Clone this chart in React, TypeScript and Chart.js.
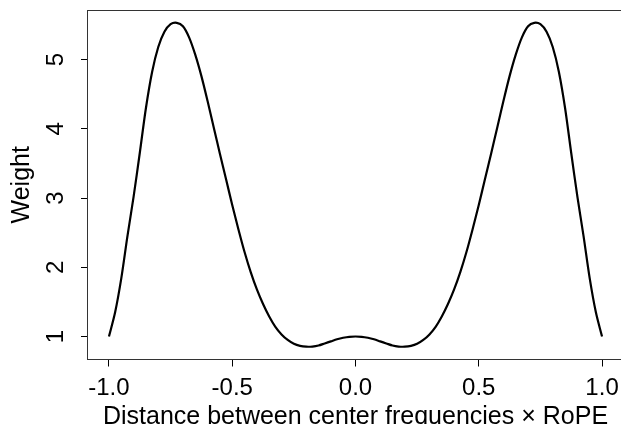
import React, { useEffect, useRef } from "react";
import { Chart, registerables } from "chart.js";

Chart.register(...registerables);

// Distance between center frequencies (x RoPE)
const distances = [
  -1.0, -0.975, -0.95, -0.925, -0.9, -0.875, -0.85, -0.825, -0.8, -0.775,
  -0.75, -0.725, -0.7, -0.675, -0.65, -0.625, -0.6, -0.575, -0.55, -0.525,
  -0.5, -0.475, -0.45, -0.425, -0.4, -0.375, -0.35, -0.325, -0.3, -0.275,
  -0.25, -0.225, -0.2, -0.175, -0.15, -0.125, -0.1, -0.075, -0.05, -0.025,
  0.0,
  0.025, 0.05, 0.075, 0.1, 0.125, 0.15, 0.175, 0.2, 0.225, 0.25,
  0.275, 0.3, 0.325, 0.35, 0.375, 0.4, 0.425, 0.45, 0.475, 0.5,
  0.525, 0.55, 0.575, 0.6, 0.625, 0.65, 0.675, 0.7, 0.725, 0.75,
  0.775, 0.8, 0.825, 0.85, 0.875, 0.9, 0.925, 0.95, 0.975, 1.0,
];

// Weight
const weights = [
  1.0, 1.35, 1.84, 2.45, 3.02, 3.65, 4.3, 4.82, 5.18, 5.4,
  5.51, 5.53, 5.48, 5.32, 5.07, 4.76, 4.4, 4.02, 3.64, 3.27,
  2.9, 2.55, 2.22, 1.93, 1.68, 1.47, 1.29, 1.14, 1.03, 0.95,
  0.895, 0.865, 0.853, 0.855, 0.87, 0.9, 0.93, 0.96, 0.982, 0.996,
  1.0,
  0.996, 0.982, 0.96, 0.93, 0.9, 0.87, 0.855, 0.853, 0.865, 0.895,
  0.95, 1.03, 1.14, 1.29, 1.47, 1.68, 1.93, 2.22, 2.55, 2.9,
  3.27, 3.64, 4.02, 4.4, 4.76, 5.07, 5.32, 5.48, 5.53, 5.51,
  5.4, 5.18, 4.82, 4.3, 3.65, 3.02, 2.45, 1.84, 1.35, 1.0,
];

const xTicks = [-1.0, -0.5, 0.0, 0.5, 1.0];
const yTicks = [1, 2, 3, 4, 5];
const xTitle = "Distance between center frequencies \u00d7 RoPE";
const yTitle = "Weight";

const FONT = "'Liberation Sans', Arial, Helvetica, sans-serif";

const boxPlugin = {
  id: "plotBox",
  afterDraw(chart: any) {
    const { ctx, chartArea: a } = chart;
    ctx.save();
    ctx.strokeStyle = "#333333";
    ctx.lineWidth = 1;
    const l = Math.round(a.left) - 0.5;
    const t = Math.round(a.top) + 0.5;
    const r = Math.round(a.right) + 0.5;
    const b = Math.round(a.bottom) - 0.5;
    ctx.strokeRect(l, t, r - l, b - t);
    ctx.restore();
  },
};

export default function App() {
  const ref = useRef<HTMLCanvasElement | null>(null);

  useEffect(() => {
    if (!ref.current) return;
    const points = distances.map((x, i) => ({ x, y: weights[i] }));
    const chart = new Chart(ref.current, {
      type: "line",
      data: {
        datasets: [
          {
            data: points,
            borderColor: "#000000",
            borderWidth: 2.2,
            pointRadius: 0,
            fill: false,
            tension: 0.3,
          },
        ],
      },
      options: {
        animation: false,
        responsive: false,
        devicePixelRatio: 1,
        layout: { padding: { top: 10, right: 7, left: 0, bottom: 0 } },
        plugins: {
          legend: { display: false },
          tooltip: { enabled: false },
        },
        scales: {
          x: {
            type: "linear",
            min: -1.085,
            max: 1.085,
            afterBuildTicks: (scale: any) => {
              scale.ticks = xTicks.map((v) => ({ value: v }));
            },
            afterFit: (scale: any) => {
              scale.height = 64.5;
              scale.paddingLeft = 0;
              scale.paddingRight = 0;
            },
            grid: {
              display: true,
              drawOnChartArea: false,
              drawTicks: true,
              tickLength: 7,
              tickColor: "#000000",
              tickWidth: 1,
            },
            border: { display: false },
            ticks: {
              color: "#000000",
              font: { family: FONT, size: 24 },
              padding: 7,
              maxRotation: 0,
              autoSkip: false,
              callback: (v: any) => Number(v).toFixed(1),
            },
            title: {
              display: true,
              text: xTitle,
              color: "#000000",
              font: { family: FONT, size: 25, lineHeight: 1.2 },
              padding: { top: 0, bottom: -8 },
            },
          },
          y: {
            type: "linear",
            min: 0.668,
            max: 5.715,
            afterBuildTicks: (scale: any) => {
              scale.ticks = yTicks.map((v) => ({ value: v }));
            },
            afterFit: (scale: any) => {
              scale.width = 88;
              scale.paddingTop = 0;
              scale.paddingBottom = 0;
            },
            grid: {
              display: true,
              drawOnChartArea: false,
              drawTicks: true,
              tickLength: 7,
              tickColor: "#000000",
              tickWidth: 1,
            },
            border: { display: false },
            ticks: {
              color: "#000000",
              font: { family: FONT, size: 24 },
              padding: 18,
              minRotation: 90,
              maxRotation: 90,
              crossAlign: "center",
              autoSkip: false,
              callback: (v: any) => String(v),
            },
            title: {
              display: true,
              text: yTitle,
              color: "#000000",
              font: { family: FONT, size: 25, lineHeight: 1.2 },
              padding: { top: 7, bottom: 0 },
            },
          },
        },
      },
      plugins: [boxPlugin],
    } as any);
    return () => chart.destroy();
  }, []);

  return (
    <div
      style={{
        position: "absolute",
        left: 0,
        top: 0,
        width: 621,
        height: 424,
        overflow: "hidden",
        background: "#ffffff",
      }}
    >
      <canvas ref={ref} width={630} height={424} style={{ width: 630, height: 424, display: "block" }} />
    </div>
  );
}
